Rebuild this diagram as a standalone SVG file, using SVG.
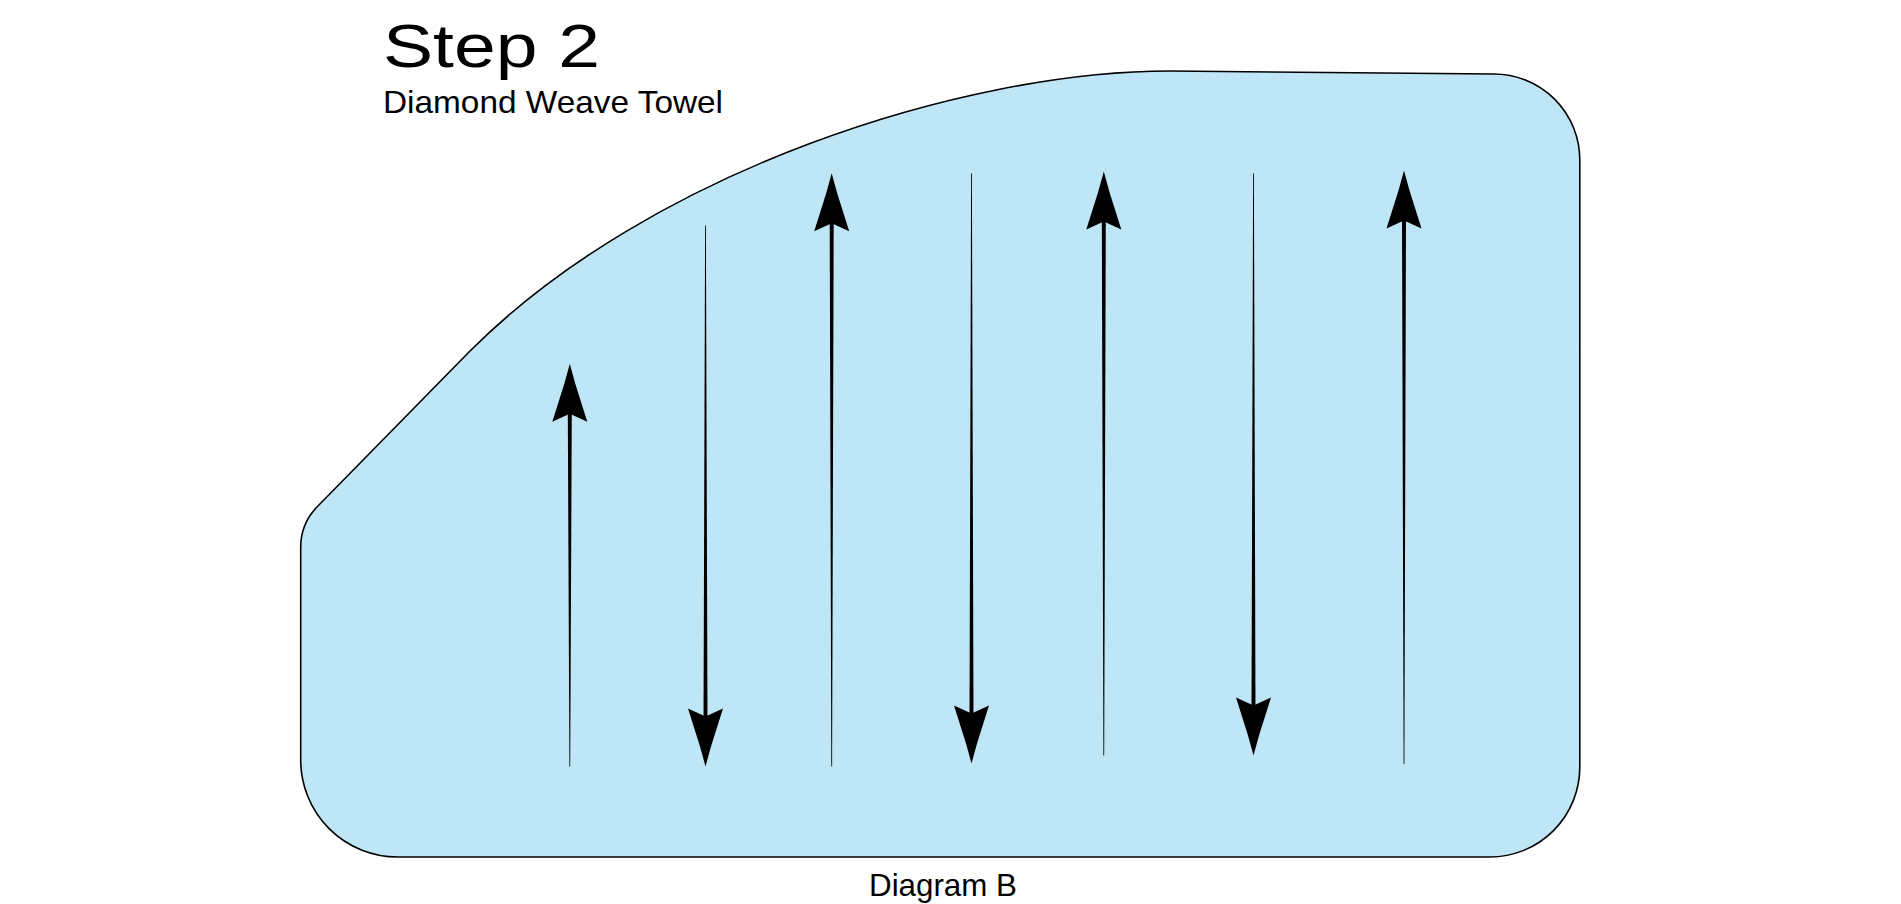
<svg xmlns="http://www.w3.org/2000/svg" width="1901" height="904" viewBox="0 0 1901 904">
<style>
.towel{fill:#bfe6f6;stroke:#000;stroke-width:1.6;stroke-linejoin:round}
.ink{fill:#000}
.title{font-family:"Liberation Sans",Arial,sans-serif;fill:#000}
</style>
<defs>
<path id="head" d="M0,0 L5.5,20 L17.5,58 L0,50 L-17.5,58 L-5.5,20 Z"/>
</defs>
<rect width="1901" height="904" fill="#fff"/>
<g id="towel">
<path class="towel" d="M470,351 C650,171 963,71 1170,71 L1493.7,74 A86,86 0 0 1 1579.8,160 L1579.8,767 A90,90 0 0 1 1490,857 L397.7,857 A97,97 0 0 1 300.7,760 L300.7,547.3 A58,58 0 0 1 317.7,506.3 Z"/>
</g>
<g id="title">
<text class="title" x="383" y="67" font-size="61" textLength="217" lengthAdjust="spacingAndGlyphs">Step 2</text>
</g>
<g id="subtitle">
<text class="title" x="383" y="113" font-size="32" textLength="340" lengthAdjust="spacingAndGlyphs">Diamond Weave Towel</text>
</g>
<g id="caption">
<text class="title" x="869" y="896" font-size="31.5" textLength="148" lengthAdjust="spacingAndGlyphs">Diagram B</text>
</g>
<g id="connectors">
<g id="arrow1">
<path class="ink" d="M569.4,766.5 L570.2,766.5 L571.8,412 L567.8,412 Z"/>
<use href="#head" transform="translate(569.8,363.7)"/>
</g>
<g id="arrow2">
<path class="ink" d="M705.1,225.6 L705.9,225.6 L707.5,722 L703.5,722 Z"/>
<use href="#head" transform="translate(705.5,766.5) rotate(180)"/>
</g>
<g id="arrow3">
<path class="ink" d="M831.3,766.5 L832.1,766.5 L833.7,222 L829.7,222 Z"/>
<use href="#head" transform="translate(831.7,173.3)"/>
</g>
<g id="arrow4">
<path class="ink" d="M971.1,173.3 L971.9,173.3 L973.5,719 L969.5,719 Z"/>
<use href="#head" transform="translate(971.5,763.5) rotate(180)"/>
</g>
<g id="arrow5">
<path class="ink" d="M1103.4,755.5 L1104.2,755.5 L1105.8,220 L1101.8,220 Z"/>
<use href="#head" transform="translate(1103.8,171.5)"/>
</g>
<g id="arrow6">
<path class="ink" d="M1253.1,173.3 L1253.9,173.3 L1255.5,711 L1251.5,711 Z"/>
<use href="#head" transform="translate(1253.5,755.5) rotate(180)"/>
</g>
<g id="arrow7">
<path class="ink" d="M1403.6,764 L1404.4,764 L1406,219 L1402,219 Z"/>
<use href="#head" transform="translate(1404,170.5)"/>
</g>
</g>
</svg>
